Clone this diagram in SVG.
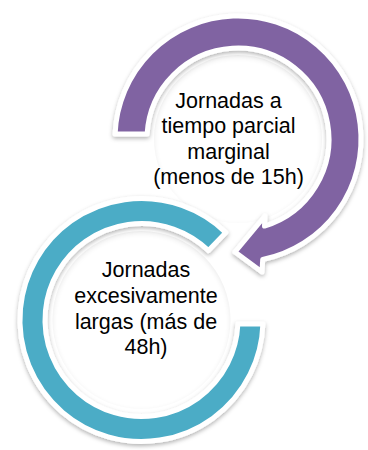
<svg xmlns="http://www.w3.org/2000/svg" width="368" height="450" viewBox="0 0 368 450">
<defs>
<style>
.arc{stroke:#fff;stroke-width:5;stroke-linejoin:round;filter:url(#sh)}
.disc{fill:#fff;filter:url(#inset)}
.t{font-family:"Liberation Sans",Arial,sans-serif;font-size:21.5px;fill:#000;text-anchor:middle}
</style>
<filter id="sh" x="-10%" y="-10%" width="120%" height="120%">
<feGaussianBlur in="SourceAlpha" stdDeviation="2"/>
<feOffset dy="1.5" result="b"/>
<feFlood flood-color="#000" flood-opacity="0.3"/>
<feComposite in2="b" operator="in" result="s"/>
<feMerge><feMergeNode in="s"/><feMergeNode in="SourceGraphic"/></feMerge>
</filter>
<filter id="inset" x="-10%" y="-10%" width="120%" height="120%">
<feGaussianBlur in="SourceAlpha" stdDeviation="2.5" result="b"/>
<feOffset dy="2" in="b" result="o"/>
<feComposite in="SourceAlpha" in2="o" operator="out" result="edge"/>
<feFlood flood-color="#000" flood-opacity="0.18"/>
<feComposite in2="edge" operator="in" result="s"/>
<feMerge><feMergeNode in="SourceGraphic"/><feMergeNode in="s"/></feMerge>
</filter>
</defs>
<g id="connectors"></g>
<g id="node-parcial">
<circle class="disc" cx="238" cy="139" r="84"/>
<path class="arc" fill="#8064A2" d="M115.1 134 A123 123 0 1 1 262.7 259.5 L262 272 L235 252 L265 216 L264.5 226.1 A91 91 0 1 0 147.1 134 Z"/>
<text class="t" x="228.5" y="107.5">Jornadas a</text>
<text class="t" x="228.5" y="133">tiempo parcial</text>
<text class="t" x="228.5" y="158.5">marginal</text>
<text class="t" x="228.5" y="184">(menos de 15h)</text>
</g>
<g id="node-largas">
<circle class="disc" cx="141.5" cy="320" r="89"/>
<path class="arc" fill="#4BACC6" d="M262.9 324 A121.5 121.5 0 1 1 225.9 232.6 L208.5 250.6 A96.5 96.5 0 1 0 237.9 324 Z"/>
<text class="t" x="146" y="276.7">Jornadas</text>
<text class="t" x="146" y="302.5">excesivamente</text>
<text class="t" x="146" y="328.5">largas (más de</text>
<text class="t" x="146" y="354">48h)</text>
</g>
</svg>
